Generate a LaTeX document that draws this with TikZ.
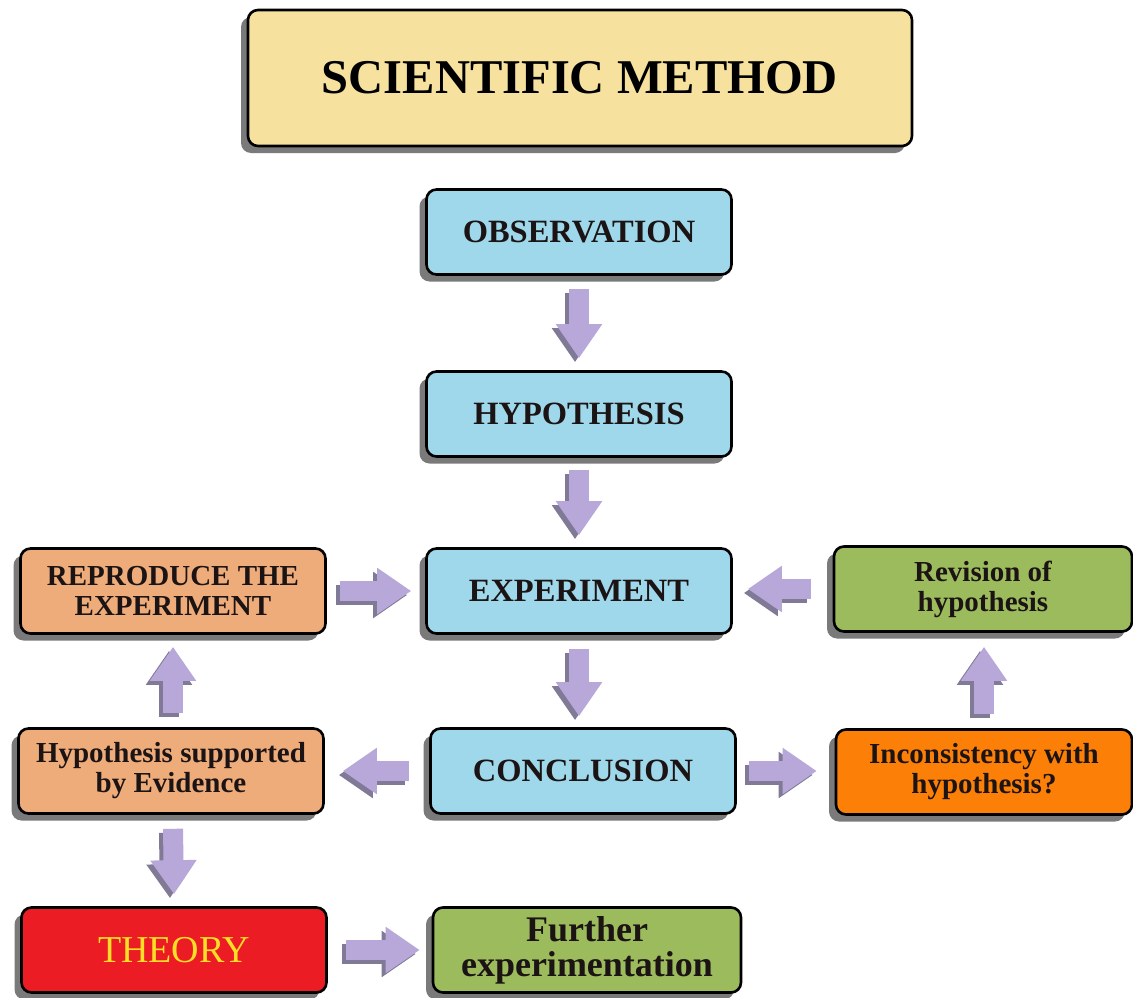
\documentclass[tikz,border=0pt]{standalone}
\usepackage{fontspec}
\setmainfont{Liberation Serif}
\usetikzlibrary{shadows,arrows.meta,calc}
\definecolor{titlefill}{RGB}{246,226,158}
\definecolor{bluefill}{RGB}{158,216,234}
\definecolor{tanfill}{RGB}{238,172,122}
\definecolor{greenfill}{RGB}{156,187,92}
\definecolor{orangefill}{RGB}{252,128,8}
\definecolor{redfill}{RGB}{236,28,36}
\definecolor{theorytext}{RGB}{255,222,40}
\definecolor{arrowc}{RGB}{184,168,218}
\definecolor{arrowsh}{RGB}{128,122,150}
\definecolor{boxtext}{RGB}{28,20,20}
\newcommand\blkarrow[2]{%
  \draw[blkshadow] #1 -- #2;
  \draw[blk] #1 -- #2;}
\begin{document}
\begin{tikzpicture}[x=1pt,y=-1pt,
  box/.style={draw=black, line width=2.6pt, rounded corners=10pt, align=center,
    inner sep=0pt, text=boxtext,
    font=\bfseries\fontsize{29}{30}\selectfont,
    minimum width=305pt, minimum height=85pt,
    drop shadow={shadow xshift=-7pt, shadow yshift=-7pt, fill=black!52, opacity=1}},
  bluebox/.style={box, fill=bluefill, font=\bfseries\fontsize{32.5}{34}\selectfont},
  blk/.style={draw=arrowc, line width=20pt, -{Triangle[length=34pt,width=44pt]}},
  blkshadow/.style={draw=arrowsh, line width=20pt, -{Triangle[length=34pt,width=44pt]},
    transform canvas={xshift=-4pt,yshift=-4pt}}
]
\useasboundingbox (0,0) rectangle (1133,998);
\fill[white] (0,0) rectangle (1133,998);

\node[box, fill=titlefill, minimum width=664pt, minimum height=136pt,
  font=\bfseries\fontsize{48.5}{50}\selectfont, text=black] (title) at (580,78) {SCIENTIFIC METHOD};

\node[bluebox] (obs) at (579,232) {OBSERVATION};
\node[bluebox] (hyp) at (579,414) {HYPOTHESIS};
\node[bluebox] (exp) at (579,591) {EXPERIMENT};
\node[bluebox] (con) at (583,771) {CONCLUSION};

\node[box, fill=tanfill] (rep) at (173,591) {REPRODUCE THE\\EXPERIMENT};
\node[box, fill=tanfill] (hse) at (171,771) {Hypothesis supported\\by Evidence};
\node[box, fill=greenfill, minimum width=298pt] (rev) at (983,589) {Revision of\\hypothesis};
\node[box, fill=orangefill, minimum width=296pt] (inc) at (984,772) {Inconsistency with\\hypothesis?};
\node[box, fill=redfill, text=theorytext, font=\fontsize{38}{40}\selectfont] (theory) at (174,950) {THEORY};
\node[box, fill=greenfill, font=\bfseries\fontsize{36}{35}\selectfont, minimum width=308pt] (fur) at (587,950) {Further\\experimentation};

\blkarrow{($(obs.south)+(0,13)$)}{($(hyp.north)+(0,-12)$)}
\blkarrow{($(hyp.south)+(0,12)$)}{($(exp.north)+(0,-12)$)}
\blkarrow{($(exp.south)+(0,14)$)}{($(con.north)+(-4,-11)$)}
\blkarrow{($(rep.east)+(13,0)$)}{($(exp.west)+(-14,0)$)}
\blkarrow{($(rev.west)+(-22,0)$)}{($(exp.east)+(15,-2)$)}
\blkarrow{($(con.west)+(-20,0)$)}{($(hse.east)+(18,0)$)}
\blkarrow{($(con.east)+(12,0)$)}{($(inc.west)+(-18,-1)$)}
\blkarrow{($(inc.north)+(0,-14)$)}{($(rev.south)+(1,14)$)}
\blkarrow{($(hse.north)+(2,-14)$)}{($(rep.south)+(0,12)$)}
\blkarrow{($(hse.south)+(2,14)$)}{($(theory.north)+(0,-12)$)}
\blkarrow{($(theory.east)+(18,0)$)}{($(fur.west)+(-12,0)$)}
\end{tikzpicture}
\end{document}
